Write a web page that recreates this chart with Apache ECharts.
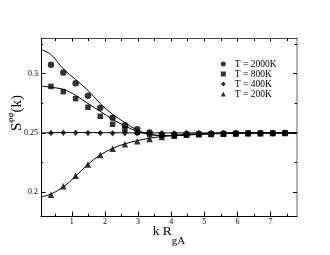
<!DOCTYPE html>
<html>
<head>
<meta charset="utf-8">
<script src="https://cdn.jsdelivr.net/npm/echarts@6/dist/echarts.min.js"></script>
<style>html,body{margin:0;padding:0;background:#fff}#c{width:330px;height:255px}</style>
</head>
<body>
<div id="c"></div>
<script>
// sample positions k*R_gA of the simulation points
var pointK = [0.372, 0.744, 1.116, 1.488, 1.86, 2.232, 2.604, 2.976, 3.348, 3.72,
              4.092, 4.464, 4.836, 5.208, 5.58, 5.952, 6.324, 6.696, 7.068, 7.44];
var s2000 = [0.3075, 0.3010, 0.2918, 0.2814, 0.2713, 0.2629, 0.2565, 0.2531, 0.2503, 0.2487,
             0.2484, 0.2488, 0.2490, 0.2492, 0.2494, 0.2496, 0.2497, 0.2498, 0.2498, 0.2499];
var s800  = [0.2892, 0.2848, 0.2789, 0.2716, 0.2640, 0.2573, 0.2530, 0.2505, 0.2486, 0.2477,
             0.2482, 0.2487, 0.2490, 0.2492, 0.2494, 0.2496, 0.2497, 0.2498, 0.2499, 0.2499];
var s400  = [0.2500, 0.2501, 0.2501, 0.2500, 0.2499, 0.2498, 0.2498, 0.2498, 0.2498, 0.2498,
             0.2498, 0.2499, 0.2499, 0.2499, 0.2499, 0.2500, 0.2500, 0.2500, 0.2500, 0.2500];
var s200  = [0.1979, 0.2050, 0.2139, 0.2234, 0.2313, 0.2366, 0.2405, 0.2430, 0.2449, 0.2466,
             0.2476, 0.2484, 0.2489, 0.2492, 0.2494, 0.2496, 0.2497, 0.2498, 0.2499, 0.2499];
// theory curves
var lineK = [0.07, 0.372, 0.744, 1.116, 1.488, 1.86, 2.232, 2.604, 2.976, 3.348, 3.72,
             4.092, 4.464, 5.0, 5.6, 6.4, 7.2, 7.8];
var l2000 = [0.3203, 0.3160, 0.3040, 0.2949, 0.2859, 0.2747, 0.2657, 0.2587, 0.2523, 0.2490, 0.2476,
             0.2476, 0.2482, 0.2490, 0.2496, 0.2499, 0.2500, 0.2500];
var l800  = [0.2895, 0.2885, 0.2867, 0.2817, 0.2747, 0.2682, 0.2615, 0.2559, 0.2514, 0.2488, 0.2477,
             0.2478, 0.2484, 0.2491, 0.2496, 0.2499, 0.2500, 0.2500];
var l400  = [0.2500, 0.2502, 0.2503, 0.2503, 0.2503, 0.2502, 0.2502, 0.2501, 0.2500, 0.2500, 0.2500,
             0.2500, 0.2500, 0.2500, 0.2500, 0.2500, 0.2500, 0.2500];
var l200  = [0.1960, 0.1985, 0.2045, 0.2135, 0.2235, 0.2315, 0.2370, 0.2408, 0.2435, 0.2455, 0.2470,
             0.2480, 0.2488, 0.2495, 0.2498, 0.2499, 0.2500, 0.2500];
var legendNames = ['T = 2000K', 'T = 800K', 'T = 400K', 'T = 200K'];
var xMajor = [1, 2, 3, 4, 5, 6, 7];
var xMinor = [0.5, 1.5, 2.5, 3.5, 4.5, 5.5, 6.5, 7.5];
var yMajor = [0.2, 0.25, 0.3];
var yMinor = [0.225, 0.275, 0.325];

var FONT = 'Liberation Serif';
function pairs(xs, ys) { return xs.map(function (x, i) { return [x, ys[i]]; }); }

function xAx(pos, ticks, len, showLine, lineColor, extra) {
  var a = {
    type: 'value', position: pos, min: 0.07, max: 7.8, gridIndex: 0,
    axisLine: { show: showLine, lineStyle: { color: lineColor, width: 1 } },
    axisTick: { show: true, inside: true, length: len, customValues: ticks, lineStyle: { color: '#000' } },
    axisLabel: { show: false },
    splitLine: { show: false }
  };
  return Object.assign(a, extra || {});
}
function yAx(pos, ticks, len, showLine, lineColor, extra) {
  var a = {
    type: 'value', position: pos, min: 0.18, max: 0.33, gridIndex: 0,
    axisLine: { show: showLine, lineStyle: { color: lineColor, width: 1 } },
    axisTick: { show: true, inside: true, length: len, customValues: ticks, lineStyle: { color: '#000' } },
    axisLabel: { show: false },
    splitLine: { show: false }
  };
  return Object.assign(a, extra || {});
}

var chart = echarts.init(document.getElementById('c'), null, { renderer: 'canvas' });
var symbolDefs = [
  { symbol: 'circle', size: 6.5 },
  { symbol: 'rect', size: 5.5 },
  { symbol: 'diamond', size: [5.5, 6.5] },
  { symbol: 'triangle', size: 6.5 }
];
var pts = [s2000, s800, s400, s200];
var lns = [l2000, l800, l400, l200];
var series = [];
lns.forEach(function (l) {
  series.push({
    type: 'line', data: pairs(lineK, l), smooth: 0.35, showSymbol: false, symbol: 'none',
    lineStyle: { color: '#000', width: 1 }, silent: true, z: 2
  });
});
pts.forEach(function (p, i) {
  series.push({
    type: 'scatter', name: legendNames[i], data: pairs(pointK, p),
    symbol: symbolDefs[i].symbol, symbolSize: symbolDefs[i].size,
    itemStyle: { color: '#000' }, z: 3
  });
});

chart.setOption({
  animation: false,
  backgroundColor: '#fff',
  grid: { left: 41, right: 33, top: 38, bottom: 39, containLabel: false, outerBoundsMode: 'none' },
  legend: {
    data: legendNames, orient: 'vertical', left: 215.8, top: 54,
    itemWidth: 5, itemHeight: 5, itemGap: 0,
    textStyle: { fontFamily: FONT, fontSize: 9.5, color: '#000', lineHeight: 6.5, padding: [0, 0, 0, 4] }
  },
  xAxis: [
    xAx('bottom', xMajor, 4.5, true, '#000', {
      axisLabel: { show: true, customValues: xMajor, fontFamily: FONT, fontSize: 8, color: '#000', margin: 2 },
      name: '{m|k R}{s|gA}', nameLocation: 'middle', nameGap: 8, nameMoveOverlap: false,
      nameTextStyle: {
        rich: {
          m: { fontFamily: FONT, fontSize: 13.5, color: '#000', verticalAlign: 'bottom', padding: [0, 0, 9, 0] },
          s: { fontFamily: FONT, fontSize: 11, color: '#000', verticalAlign: 'bottom' }
        }
      }
    }),
    xAx('bottom', xMinor, 2.3, false, '#000'),
    xAx('top', xMajor, 3.5, true, '#444'),
    xAx('top', xMinor, 3, false, '#444')
  ],
  yAxis: [
    yAx('left', yMajor, 4.5, true, '#000', {
      axisLabel: { show: true, customValues: yMajor, fontFamily: FONT, fontSize: 8, color: '#000', margin: 3 },
      name: '{m|S}{p|φφ}{m|(k)}', nameLocation: 'middle', nameRotate: 90, nameGap: 16, nameMoveOverlap: false,
      nameTextStyle: {
        padding: [0, 0, 0, 28],
        rich: {
          m: { fontFamily: FONT, fontSize: 15, color: '#000', verticalAlign: 'bottom', padding: [4, 0, 0, 0] },
          p: { fontFamily: FONT, fontSize: 9, color: '#000', verticalAlign: 'top' }
        }
      }
    }),
    yAx('left', yMinor, 2.3, false, '#000'),
    yAx('right', yMajor, 4, true, '#999', { axisLine: { show: true, lineStyle: { color: '#999', width: 1.5 } } }),
    yAx('right', yMinor, 2.3, false, '#999')
  ],
  series: series
});
</script>
</body>
</html>
